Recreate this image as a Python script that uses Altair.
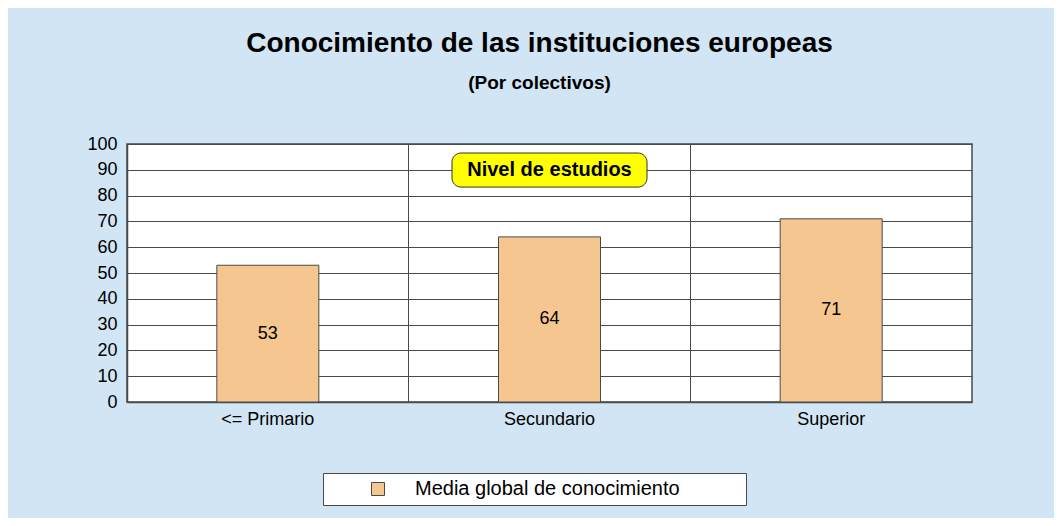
import altair as alt
import pandas as pd

categories = ["<= Primario", "Secundario", "Superior"]
values = [53, 64, 71]
series_name = "Media global de conocimiento"
box_label = "Nivel de estudios"
box_category = "Secundario"
box_top = 96.5
box_bottom = 83.3
box_mid = 90
y_ticks = list(range(0, 101, 10))

FONT = "Liberation Sans"
BAR_FILL = "#F5C690"
LINE = "#4a4a4a"

df = pd.DataFrame({"cat": categories, "val": values, "serie": [series_name] * 3})
box_df = pd.DataFrame({"cat": [box_category], "top": [box_top], "bottom": [box_bottom],
                       "mid": [box_mid], "label": [box_label]})

x_axis = alt.Axis(labelAngle=0, ticks=False, grid=True, bandPosition=0,
                  gridColor=LINE, gridOpacity=1, domainColor=LINE, domainWidth=1.5,
                  labelFont=FONT, labelFontSize=18, labelColor="black", labelPadding=8)
x_scale = alt.Scale(paddingInner=0, paddingOuter=0)
y_axis = alt.Axis(values=y_ticks, ticks=False, grid=True, gridColor=LINE, gridOpacity=1,
                  domainColor=LINE, domainWidth=1.5, labelFont=FONT, labelFontSize=18,
                  labelColor="black", labelPadding=10, labelOverlap=False)
y_scale = alt.Scale(domain=[0, 100], nice=False)


def xe():
    return alt.X("cat:N", sort=categories, title=None, scale=x_scale, axis=x_axis)


def ye(field):
    return alt.Y(field, scale=y_scale, title=None, axis=y_axis)


pad_chars = "\u2800" * 4

bars = alt.Chart(df).mark_bar(width=102, stroke=LINE, strokeWidth=1).encode(
    x=xe(),
    y=ye("val:Q"),
    color=alt.Color("serie:N", title=None,
                    scale=alt.Scale(domain=[series_name], range=[BAR_FILL]),
                    legend=alt.Legend(orient="none", legendX=196, legendY=329,
                                      direction="horizontal", symbolType="square", symbolSize=169,
                                      symbolStrokeColor=LINE, symbolStrokeWidth=1,
                                      symbolOffset=39, labelOffset=27,
                                      labelFont=FONT, labelFontSize=20, labelColor="black",
                                      labelExpr="datum.label + '" + pad_chars + "'",
                                      labelLimit=0,
                                      fillColor="white", strokeColor=LINE, padding=6)),
)

labels = alt.Chart(df).transform_calculate(half="datum.val / 2").mark_text(
    font=FONT, fontSize=18, color="black", baseline="middle", align="center"
).encode(x=xe(), y=ye("half:Q"), text="val:Q")

box = alt.Chart(box_df).mark_bar(width=195, cornerRadius=9, fill="#FFFF00", stroke="#333333",
                                 strokeWidth=1).encode(
    x=xe(), y=ye("top:Q"), y2="bottom:Q")

box_text = alt.Chart(box_df).mark_text(font=FONT, fontSize=20, fontWeight="bold", color="black",
                                       baseline="middle", align="center").encode(
    x=xe(), y=ye("mid:Q"), text="label:N")

chart = alt.layer(bars, labels, box, box_text).properties(
    width=845, height=258,
    autosize=alt.AutoSizeParams(type="none"),
    padding={"left": 119, "top": 136, "right": 82, "bottom": 116},
    background="#D1E5F4",
    title=alt.TitleParams(text="Conocimiento de las instituciones europeas",
                          subtitle="(Por colectivos)", font=FONT, fontSize=28, fontWeight="bold",
                          color="black", subtitleFont=FONT, subtitleFontSize=19,
                          subtitleFontWeight="bold", subtitleColor="black", anchor="middle",
                          dx=-10, offset=42, subtitlePadding=16),
).configure_view(stroke=LINE, strokeWidth=1.5, fill="white")

chart.save("out.html", embed_options={"renderer": "svg", "actions": False})
